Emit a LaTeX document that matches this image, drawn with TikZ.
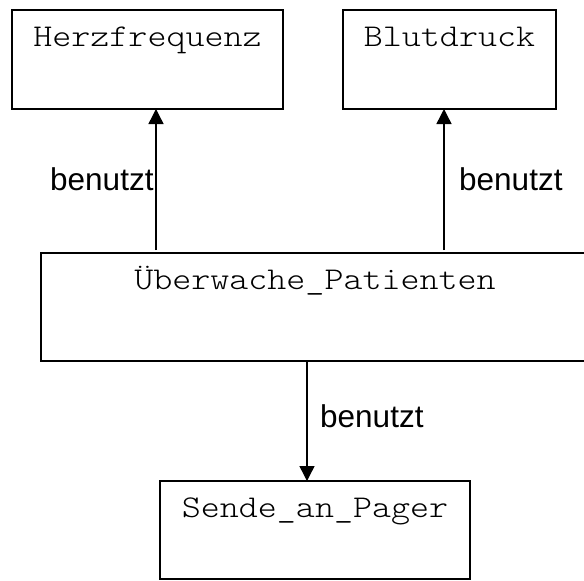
\documentclass[tikz,border=0pt]{standalone}
\usepackage{fontspec}
\setmainfont{Liberation Sans}
\newfontfamily\monofam[FakeStretch=1.143]{Latin Modern Mono Light}
\usetikzlibrary{arrows.meta}

\tikzset{
  box/.style={draw=black, line width=1.7pt, rectangle, inner sep=0pt, outer sep=0pt},
  title/.style={inner sep=0pt, anchor=base, font=\monofam\fontsize{31.7}{38}\selectfont},
  uses/.style={draw=black, line width=1.4pt, -{Triangle[width=15pt,length=15pt]}},
  usetext/.style={inner sep=0pt, anchor=base west, font=\fontsize{31.5}{38}\selectfont}
}

\begin{document}
\begin{tikzpicture}[x=1pt, y=-1pt]
  \useasboundingbox (0,0) rectangle (584,581);
  \clip (0,0) rectangle (584,581);

  % modules
  \node[box, minimum width=271pt, minimum height=99pt]  (herz)  at (147.5,59.5) {};
  \node[box, minimum width=213pt, minimum height=99pt]  (blut)  at (449.5,59.5) {};
  \node[box, minimum width=548pt, minimum height=108pt] (ueber) at (315,307) {};
  \node[box, minimum width=310pt, minimum height=98pt]  (sende) at (315,530) {};

  % module names
  \node[title] (herzT)  at ([yshift=-36.5pt]herz.north)  {Herzfrequenz};
  \node[title] (blutT)  at ([yshift=-36.5pt]blut.north)  {Blutdruck};
  \node[title] (ueberT) at ([yshift=-36.5pt]ueber.north) {Überwache\_Patienten};
  \node[title] (sendeT) at ([yshift=-36.5pt]sende.north) {Sende\_an\_Pager};

  % connector end points
  \coordinate (uL) at (156,250);
  \coordinate (uR) at (444,250);
  \coordinate (uD) at (307,361);

  % uses relations
  \draw[uses] (uL) -- (uL |- herz.south);
  \draw[uses] (uR) -- (uR |- blut.south);
  \draw[uses] (uD) -- (uD |- sende.north);

  \node[usetext] (lblL) at (50,190)  {benutzt};
  \node[usetext] (lblR) at (459,190) {benutzt};
  \node[usetext] (lblD) at (320,427) {benutzt};
\end{tikzpicture}
\end{document}
